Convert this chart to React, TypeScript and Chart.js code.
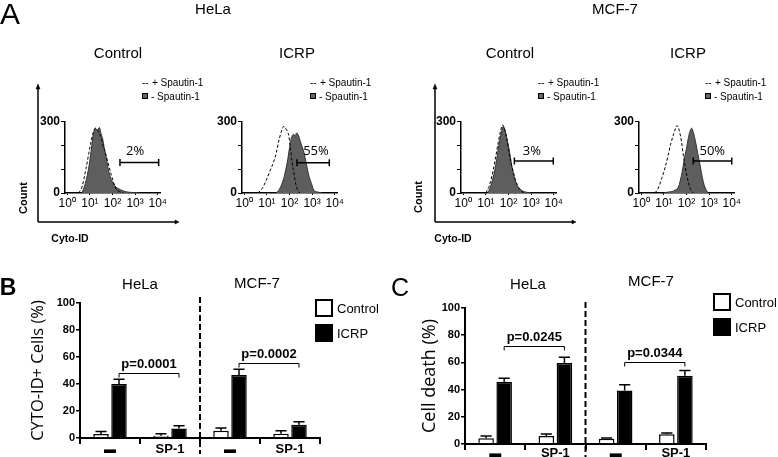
import React, { useEffect, useRef } from 'react';
import Chart from 'chart.js/auto';

const SANS = '"Liberation Sans", Arial, Helvetica, sans-serif';
const HUMAN = '"Open Sans", "Liberation Sans", sans-serif';

// ---------- Panel A: flow cytometry histograms (x = log10 Cyto-ID, y = count) ----------
const DECADES = [0, 1, 2, 3, 4];
const SUP = ['⁰', '¹', '²', '³', '⁴'];
const COUNT_TICKS = [0, 100, 200, 300];

const HELA_CTRL_PLUS_LOG = [0.5, 0.65, 0.83, 0.95, 1.05, 1.15, 1.24, 1.35, 1.5, 1.57, 1.65, 1.79, 1.95, 2.15, 2.3, 2.5];
const HELA_CTRL_PLUS_COUNT = [0, 25, 103, 165, 215, 255, 272, 262, 230, 201, 180, 131, 75, 18, 6, 0];
const HELA_CTRL_MINUS_LOG = [0.65, 0.8, 0.97, 1.08, 1.15, 1.25, 1.32, 1.42, 1.49, 1.57, 1.64, 1.72, 1.79, 1.86, 1.93, 2.05, 2.15, 2.35, 2.6, 2.9, 3.2];
const HELA_CTRL_MINUS_COUNT = [0, 40, 118, 195, 245, 272, 262, 275, 250, 225, 187, 150, 110, 82, 60, 38, 25, 14, 5, 2, 0];

const HELA_ICRP_PLUS_LOG = [0.6, 0.8, 1.0, 1.15, 1.3, 1.42, 1.52, 1.63, 1.74, 1.85, 1.96, 2.04, 2.11, 2.2, 2.26, 2.35, 2.45];
const HELA_ICRP_PLUS_COUNT = [0, 20, 60, 95, 131, 170, 215, 255, 279, 268, 244, 190, 131, 80, 46, 15, 0];
const HELA_ICRP_MINUS_LOG = [1.4, 1.55, 1.74, 1.85, 1.93, 2.0, 2.08, 2.18, 2.25, 2.32, 2.4, 2.5, 2.63, 2.75, 2.85, 2.97, 3.07, 3.25, 3.45];
const HELA_ICRP_MINUS_COUNT = [0, 15, 60, 105, 145, 190, 229, 246, 240, 252, 240, 210, 173, 120, 75, 40, 13, 4, 0];

const MCF_CTRL_PLUS_LOG = [1.0, 1.15, 1.33, 1.45, 1.55, 1.65, 1.73, 1.82, 1.92, 2.07, 2.18, 2.29, 2.45, 2.6, 2.7];
const MCF_CTRL_PLUS_COUNT = [0, 30, 99, 160, 215, 260, 286, 270, 230, 145, 100, 60, 22, 5, 0];
const MCF_CTRL_MINUS_LOG = [1.08, 1.2, 1.4, 1.5, 1.6, 1.7, 1.77, 1.85, 1.99, 2.07, 2.14, 2.25, 2.36, 2.5, 2.65, 2.8, 3.0];
const MCF_CTRL_MINUS_COUNT = [0, 25, 99, 155, 215, 262, 280, 262, 201, 160, 117, 70, 35, 18, 7, 3, 0];

const MCF_ICRP_PLUS_LOG = [0.6, 0.75, 0.9, 1.05, 1.19, 1.3, 1.42, 1.52, 1.59, 1.68, 1.78, 1.85, 1.93, 2.0, 2.08, 2.18, 2.3];
const MCF_ICRP_PLUS_COUNT = [0, 20, 60, 105, 159, 205, 244, 272, 283, 262, 215, 165, 117, 80, 46, 15, 0];
const MCF_ICRP_MINUS_LOG = [1.0, 1.2, 1.35, 1.5, 1.64, 1.72, 1.81, 1.9, 2.0, 2.08, 2.15, 2.23, 2.3, 2.4, 2.5, 2.6, 2.7, 2.81, 2.96];
const MCF_ICRP_MINUS_COUNT = [0, 4, 6, 12, 25, 50, 89, 140, 187, 230, 258, 272, 255, 215, 165, 117, 65, 25, 0];

// gates (HeLa Control, HeLa ICRP, MCF-7 Control, MCF-7 ICRP)
const GATE_FROM = [2.33, 2.33, 2.26, 2.3];
const GATE_TO = [4.04, 3.76, 3.98, 4.0];
const GATE_LEVEL = [128, 127, 134, 134];
const GATE_LABELS = ['2%', '55%', '3%', '50%'];
const GATE_TEXT_LOG = [3.0, 3.17, 3.03, 3.14];
const GATE_TEXT_COUNT = [173, 173, 177, 177];

const LEGEND_PLUS = '+ Spautin-1';
const LEGEND_MINUS = '- Spautin-1';

// ---------- Panels B and C: bar charts ----------
const GROUP_LABELS = ['▬', 'SP-1', '▬', 'SP-1'];
const SERIES_NAMES = ['Control', 'ICRP'];

const B_CONTROL = [3.0, 1.7, 5.4, 3.2];
const B_CONTROL_ERR = [1.8, 1.5, 2.0, 2.2];
const B_ICRP = [40, 7, 46.7, 9.8];
const B_ICRP_ERR = [3.5, 2.1, 4.2, 2.2];
const B_P_LABELS = ['p=0.0001', 'p=0.0002'];
const B_P_LEVEL = [48, 55.5];

const C_CONTROL = [4.2, 5.9, 3.9, 7.1];
const C_CONTROL_ERR = [1.7, 1.5, 0.5, 1.0];
const C_ICRP = [45.8, 59.5, 39.3, 50.1];
const C_ICRP_ERR = [2.5, 4.3, 4.2, 4.0];
const C_P_LABELS = ['p=0.0245', 'p=0.0344'];
const C_P_LEVEL = [72, 60];

const P_PAIRS = [[0, 1], [2, 3]];
const PCT_TICKS_STEP = 20;

function pts(xs: number[], ys: number[]) {
  return xs.map((x, i) => ({ x, y: ys[i] }));
}

function gatePlugin(i: number) {
  return {
    id: 'gate' + i,
    afterDatasetsDraw(chart: any) {
      const { ctx } = chart;
      const x = chart.scales.x;
      const y = chart.scales.y;
      const x1 = x.getPixelForValue(GATE_FROM[i]);
      const x2 = x.getPixelForValue(GATE_TO[i]);
      const yy = y.getPixelForValue(GATE_LEVEL[i]);
      ctx.save();
      ctx.strokeStyle = '#000';
      ctx.lineWidth = 1.5;
      ctx.beginPath();
      ctx.moveTo(x1, yy);
      ctx.lineTo(x2, yy);
      ctx.moveTo(x1, yy - 3.5);
      ctx.lineTo(x1, yy + 3.5);
      ctx.moveTo(x2, yy - 3.5);
      ctx.lineTo(x2, yy + 3.5);
      ctx.stroke();
      ctx.font = `13px ${HUMAN}`;
      ctx.textAlign = 'center';
      ctx.textBaseline = 'middle';
      ctx.fillStyle = '#000';
      ctx.fillText(GATE_LABELS[i], x.getPixelForValue(GATE_TEXT_LOG[i]), y.getPixelForValue(GATE_TEXT_COUNT[i]));
      ctx.restore();
    },
  };
}

function histConfig(plusLog: number[], plusCount: number[], minusLog: number[], minusCount: number[], gate: number) {
  return {
    type: 'line',
    data: {
      datasets: [
        {
          label: LEGEND_PLUS,
          data: pts(plusLog, plusCount),
          borderColor: '#000',
          borderWidth: 1,
          borderDash: [3, 2],
          pointRadius: 0,
          fill: false,
          cubicInterpolationMode: 'monotone',
        },
        {
          label: LEGEND_MINUS,
          data: pts(minusLog, minusCount),
          borderColor: '#333',
          backgroundColor: '#5e5e5e',
          borderWidth: 1,
          pointRadius: 0,
          fill: 'origin',
          cubicInterpolationMode: 'monotone',
        },
      ],
    },
    options: {
      responsive: false,
      animation: false,
      events: [],
      layout: { padding: { top: 16.5, right: 15, bottom: 0, left: 0 } },
      plugins: { legend: { display: false }, tooltip: { enabled: false } },
      scales: {
        x: {
          type: 'linear',
          min: -0.1,
          max: 4.1,
          afterBuildTicks: (s: any) => {
            s.ticks = DECADES.map((v) => ({ value: v }));
          },
          afterFit: (s: any) => {
            s.height = 22;
          },
          grid: { drawOnChartArea: false, tickLength: 2, color: '#000', lineWidth: 1 },
          border: { color: '#000', width: 1.5 },
          ticks: {
            callback: (v: any) => '10' + SUP[Math.round(v)],
            font: { family: SANS, size: 12 },
            color: '#000',
            padding: 1,
            maxRotation: 0,
            autoSkip: false,
          },
        },
        y: {
          min: 0,
          max: 300,
          afterBuildTicks: (s: any) => {
            s.ticks = COUNT_TICKS.map((v) => ({ value: v }));
          },
          afterFit: (s: any) => {
            s.width = 35;
          },
          grid: { drawOnChartArea: false, tickLength: 4, color: '#000', lineWidth: 1 },
          border: { color: '#000', width: 1.5 },
          ticks: {
            callback: (v: any) => (v === 0 || v === 300 ? String(v) : ''),
            font: { family: SANS, size: 12, weight: 'bold' },
            color: '#000',
            padding: 1,
            autoSkip: false,
          },
        },
      },
    },
    plugins: [gatePlugin(gate)],
  };
}

function barExtras(errs: number[][], pLabels: string[], pLevels: number[]) {
  return {
    id: 'barExtras',
    afterDatasetsDraw(chart: any) {
      const { ctx, chartArea } = chart;
      const x = chart.scales.x;
      const y = chart.scales.y;
      ctx.save();
      ctx.strokeStyle = '#000';
      ctx.fillStyle = '#000';
      // error bars (upper only)
      ctx.lineWidth = 1.5;
      errs.forEach((err, di) => {
        const meta = chart.getDatasetMeta(di);
        meta.data.forEach((bar: any, i: number) => {
          const v = chart.data.datasets[di].data[i];
          const top = y.getPixelForValue(v + err[i]);
          const half = bar.width * 0.36;
          ctx.beginPath();
          ctx.moveTo(bar.x, bar.y);
          ctx.lineTo(bar.x, top);
          ctx.moveTo(bar.x - half, top);
          ctx.lineTo(bar.x + half, top);
          ctx.stroke();
        });
      });
      // divider between cell lines
      const dx = x.getPixelForValue(1.5);
      ctx.lineWidth = 2;
      ctx.setLineDash([6, 3]);
      ctx.beginPath();
      ctx.moveTo(dx, chartArea.top - 6);
      ctx.lineTo(dx, chartArea.bottom + 16);
      ctx.stroke();
      ctx.setLineDash([]);
      // p-value brackets between ICRP bars
      const icrp = chart.getDatasetMeta(1);
      ctx.lineWidth = 1;
      ctx.font = `bold 13px ${SANS}`;
      ctx.textAlign = 'center';
      ctx.textBaseline = 'bottom';
      P_PAIRS.forEach(([a, b], k) => {
        const xa = icrp.data[a].x;
        const xb = icrp.data[b].x;
        const yy = Math.round(y.getPixelForValue(pLevels[k])) + 0.5;
        ctx.beginPath();
        ctx.moveTo(xa, yy + 4);
        ctx.lineTo(xa, yy);
        ctx.lineTo(xb, yy);
        ctx.lineTo(xb, yy + 4);
        ctx.stroke();
        ctx.fillText(pLabels[k], (xa + xb) / 2, yy - 3);
      });
      ctx.restore();
    },
  };
}

function barConfig(
  ctrl: number[], ctrlErr: number[], icrp: number[], icrpErr: number[],
  pLabels: string[], pLevels: number[],
  title: string, titleSize: number, titlePad: number, yWidth: number, xHeight: number, padTop: number, padRight: number,
  labelPad: number,
) {
  return {
    type: 'bar',
    data: {
      labels: GROUP_LABELS,
      datasets: [
        {
          label: SERIES_NAMES[0],
          data: ctrl,
          backgroundColor: '#fff',
          borderColor: '#000',
          borderWidth: 1.5,
          categoryPercentage: 0.6,
          barPercentage: 0.86,
        },
        {
          label: SERIES_NAMES[1],
          data: icrp,
          backgroundColor: '#000',
          borderColor: '#000',
          borderWidth: 1.5,
          categoryPercentage: 0.6,
          barPercentage: 0.86,
        },
      ],
    },
    options: {
      responsive: false,
      animation: false,
      events: [],
      layout: { padding: { top: padTop, right: padRight, bottom: 0, left: 0 } },
      plugins: { legend: { display: false }, tooltip: { enabled: false } },
      scales: {
        x: {
          afterFit: (s: any) => {
            s.height = xHeight;
          },
          grid: { offset: true, drawOnChartArea: false, tickLength: 6, color: '#000', lineWidth: 2 },
          border: { color: '#000', width: 2 },
          ticks: {
            font: (c: any) => ({
              family: SANS,
              size: c.tick && c.tick.label === GROUP_LABELS[0] ? 12 : 13,
              weight: 'bold',
            }),
            color: '#000',
            padding: labelPad,
            maxRotation: 0,
            autoSkip: false,
          },
        },
        y: {
          min: 0,
          max: 100,
          afterFit: (s: any) => {
            s.width = yWidth;
          },
          grid: { drawOnChartArea: false, tickLength: 4, color: '#000', lineWidth: 1.5 },
          border: { color: '#000', width: 2 },
          ticks: {
            stepSize: PCT_TICKS_STEP,
            font: { family: SANS, size: 11, weight: 'bold' },
            color: '#000',
            padding: 1,
          },
          title: {
            display: true,
            text: title,
            font: { family: HUMAN, size: titleSize },
            color: '#000',
            padding: { top: titlePad, bottom: 0 },
          },
        },
      },
    },
    plugins: [barExtras([ctrlErr, icrpErr], pLabels, pLevels)],
  };
}

function ChartBox({ left, top, width, height, make }: any) {
  const ref = useRef<HTMLCanvasElement>(null);
  useEffect(() => {
    const chart = new Chart(ref.current as HTMLCanvasElement, make());
    return () => chart.destroy();
  }, []);
  return (
    <canvas
      ref={ref}
      width={width}
      height={height}
      style={{ position: 'absolute', left, top, width, height, display: 'block' }}
    />
  );
}

function Label({ x, y, size, children, anchor = 'center', weight = 400, family = SANS, rotate = 0 }: any) {
  const tx = anchor === 'center' ? '-50%' : '0';
  return (
    <div
      style={{
        position: 'absolute',
        left: x,
        top: y,
        fontSize: size,
        lineHeight: 1,
        fontFamily: family,
        fontWeight: weight,
        whiteSpace: 'nowrap',
        color: '#000',
        transform: `translate(${tx}, -50%) rotate(${rotate}deg)`,
      }}
    >
      {children}
    </div>
  );
}

function SpautinLegend({ x }: any) {
  return (
    <>
      <Label x={x} y={83} size={10} anchor="left">--</Label>
      <Label x={x + 10} y={83} size={10} anchor="left">{LEGEND_PLUS}</Label>
      <div
        style={{
          position: 'absolute', left: x, top: 93, width: 6, height: 6,
          background: '#666', border: '1px solid #000', boxSizing: 'border-box',
        }}
      />
      <Label x={x + 9} y={97} size={10} anchor="left">{LEGEND_MINUS}</Label>
    </>
  );
}

function BarLegend({ x, y1, y2, size }: any) {
  const box = { position: 'absolute' as const, left: x, width: 18, height: 18, border: '2px solid #000', boxSizing: 'border-box' as const };
  return (
    <>
      <div style={{ ...box, top: y1 - 9, background: '#fff' }} />
      <div style={{ ...box, top: y2 - 9, background: '#000' }} />
      <Label x={x + 22} y={y1} size={size} anchor="left">{SERIES_NAMES[0]}</Label>
      <Label x={x + 22} y={y2} size={size} anchor="left">{SERIES_NAMES[1]}</Label>
    </>
  );
}

export default function App() {
  const HIST_TOP = 105;
  return (
    <div style={{ position: 'absolute', left: 0, top: 0, width: 778, height: 457, background: '#fff', overflow: 'hidden' }}>
      {/* Panel A */}
      <ChartBox left={30} top={HIST_TOP} width={145} height={110}
        make={() => histConfig(HELA_CTRL_PLUS_LOG, HELA_CTRL_PLUS_COUNT, HELA_CTRL_MINUS_LOG, HELA_CTRL_MINUS_COUNT, 0)} />
      <ChartBox left={207} top={HIST_TOP} width={145} height={110}
        make={() => histConfig(HELA_ICRP_PLUS_LOG, HELA_ICRP_PLUS_COUNT, HELA_ICRP_MINUS_LOG, HELA_ICRP_MINUS_COUNT, 1)} />
      <ChartBox left={426} top={HIST_TOP} width={145} height={110}
        make={() => histConfig(MCF_CTRL_PLUS_LOG, MCF_CTRL_PLUS_COUNT, MCF_CTRL_MINUS_LOG, MCF_CTRL_MINUS_COUNT, 2)} />
      <ChartBox left={604} top={HIST_TOP} width={145} height={110}
        make={() => histConfig(MCF_ICRP_PLUS_LOG, MCF_ICRP_PLUS_COUNT, MCF_ICRP_MINUS_LOG, MCF_ICRP_MINUS_COUNT, 3)} />

      {/* Panel B */}
      <ChartBox left={0} top={288} width={335} height={169}
        make={() => barConfig(B_CONTROL, B_CONTROL_ERR, B_ICRP, B_ICRP_ERR, B_P_LABELS, B_P_LEVEL,
          'CYTO-ID+ Cells (%)', 16.5, 28, 80, 19, 15, 15, -2)} />
      {/* Panel C */}
      <ChartBox left={388} top={290} width={335} height={167}
        make={() => barConfig(C_CONTROL, C_CONTROL_ERR, C_ICRP, C_ICRP_ERR, C_P_LABELS, C_P_LEVEL,
          'Cell death (%)', 18, 31, 77, 13, 18, 17, -4)} />

      {/* outer schematic axes of panel A */}
      <svg width={778} height={457} style={{ position: 'absolute', left: 0, top: 0, pointerEvents: 'none' }}>
        {[38, 435].map((ax) => (
          <g key={ax} stroke="#000" strokeWidth={1.5} fill="#000">
            <line x1={ax} y1={88} x2={ax} y2={222} />
            <line x1={ax} y1={222} x2={ax + 138} y2={222} />
            <polygon points={`${ax - 2},${89} ${ax + 2},${89} ${ax},${84}`} strokeWidth={0.5} />
            <polygon points={`${ax + 137},${220} ${ax + 137},${224} ${ax + 141},${222}`} strokeWidth={0.5} />
          </g>
        ))}
      </svg>

      <Label x={10} y={14} size={30}>A</Label>
      <Label x={213} y={8} size={15}>HeLa</Label>
      <Label x={615} y={8} size={15}>MCF-7</Label>
      <Label x={118} y={52} size={15}>Control</Label>
      <Label x={297} y={52} size={15}>ICRP</Label>
      <Label x={510} y={52} size={15}>Control</Label>
      <Label x={688} y={52} size={15}>ICRP</Label>
      <Label x={23} y={198} size={11} weight={700} rotate={-90}>Count</Label>
      <Label x={418} y={197} size={11} weight={700} rotate={-90}>Count</Label>
      <Label x={70} y={238} size={10.5} weight={700}>Cyto-ID</Label>
      <Label x={453} y={238} size={10.5} weight={700}>Cyto-ID</Label>
      <SpautinLegend x={142} />
      <SpautinLegend x={310} />
      <SpautinLegend x={538} />
      <SpautinLegend x={705} />

      <Label x={8} y={287} size={23} weight={700}>B</Label>
      <Label x={140} y={283} size={15}>HeLa</Label>
      <Label x={257} y={282} size={15}>MCF-7</Label>
      <BarLegend x={315} y1={308} y2={333} size={13} />

      <Label x={400} y={287} size={25}>C</Label>
      <Label x={528} y={283} size={15}>HeLa</Label>
      <Label x={651} y={280} size={15}>MCF-7</Label>
      <BarLegend x={713} y1={302} y2={327} size={13} />
    </div>
  );
}
